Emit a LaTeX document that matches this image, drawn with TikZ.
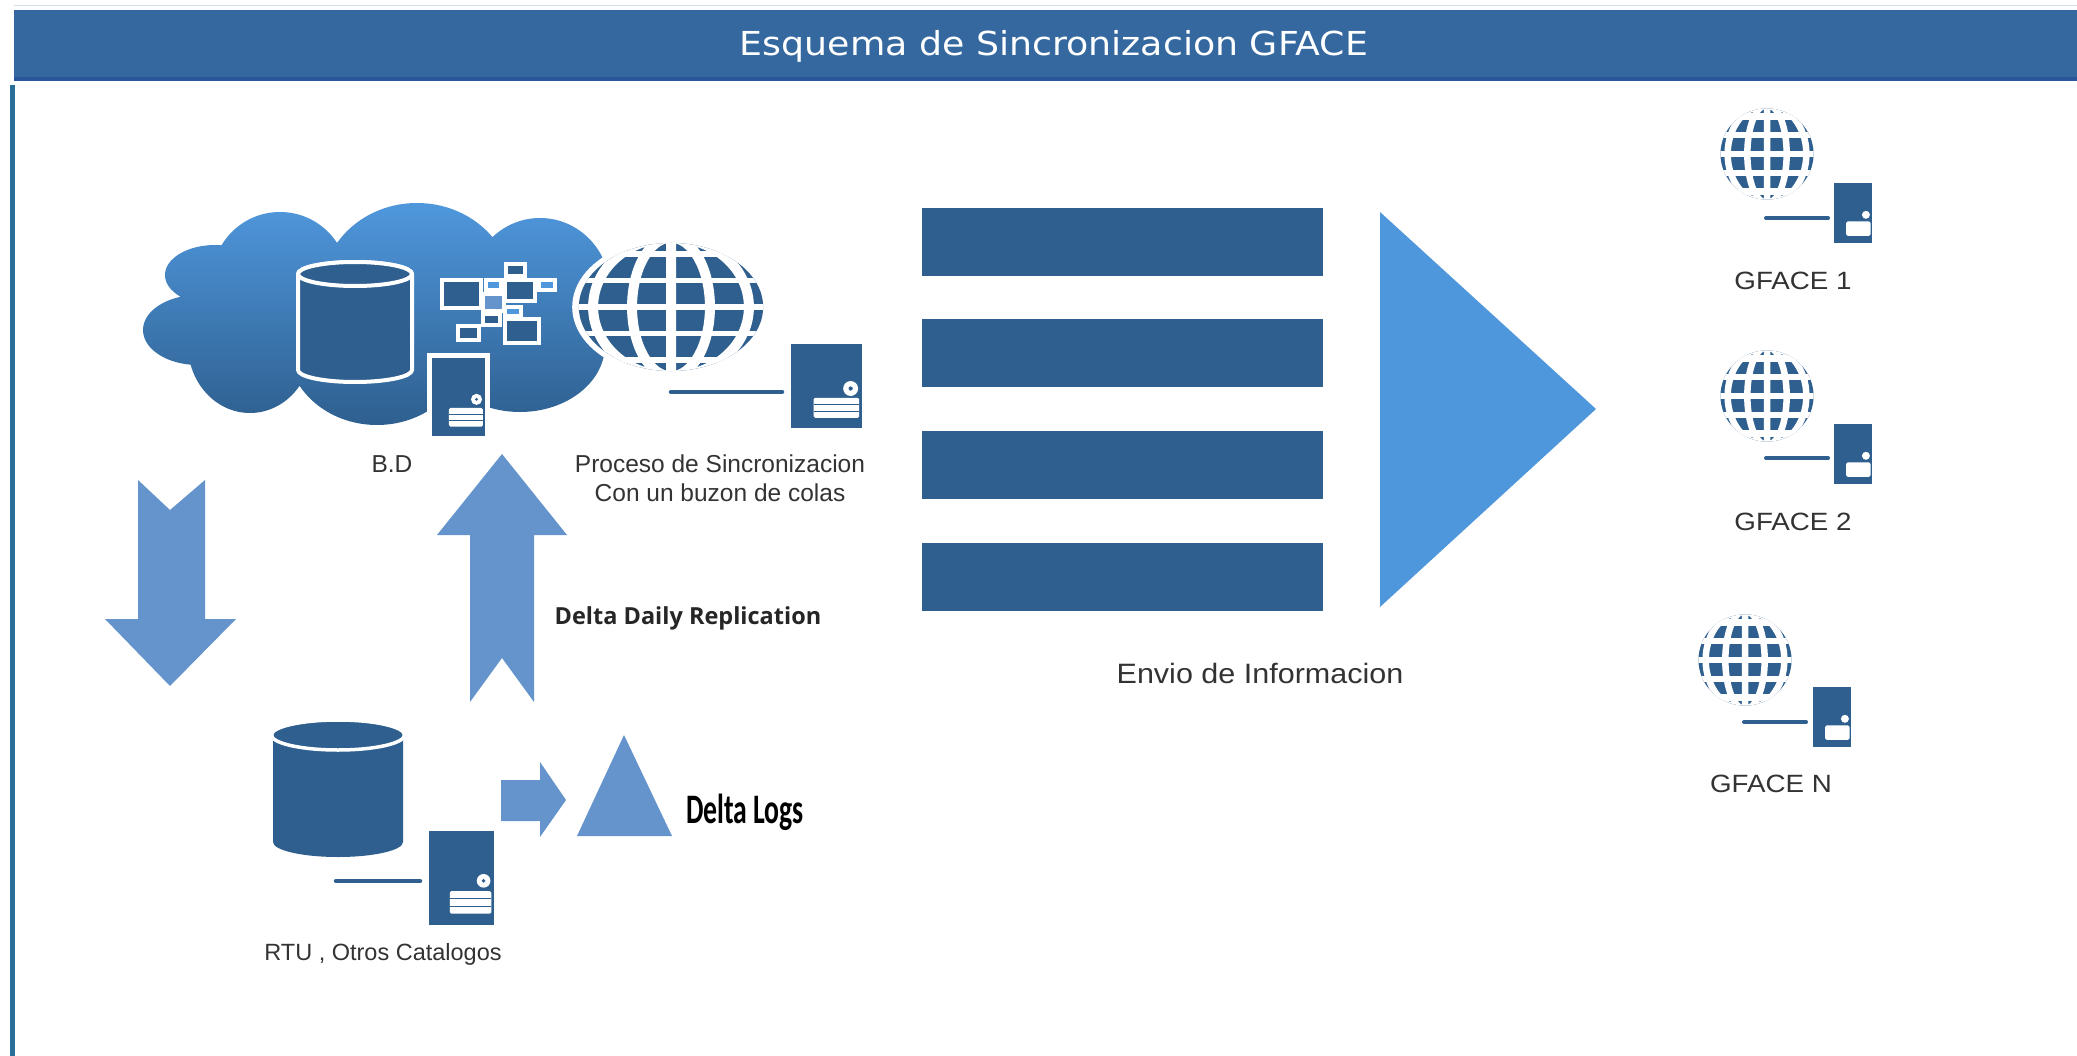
\documentclass[tikz,border=0pt]{standalone}
\usepackage{fontspec}
\setmainfont{Liberation Sans}
\newfontfamily\titlefont{DejaVu Sans}
\newfontfamily\carlitofont{Carlito}
\newfontfamily\opensans{Open Sans}
\definecolor{gfdark}{HTML}{2E5F8F}
\definecolor{gfhead}{HTML}{34689F}
\definecolor{gfarrow}{HTML}{6594CC}
\definecolor{gftri}{HTML}{4F97DC}
\definecolor{gftext}{HTML}{333333}
\tikzset{
  lbl/.style={text=gftext,inner sep=0pt,font=\fontsize{24.5}{29}\selectfont,align=center},
  blockarrow/.style={fill=gfarrow,draw=none},
  bar/.style={fill=gfdark,draw=none},
  wire/.style={draw=gfdark,line width=4.5pt,line cap=round}
}
% cx cy rx ry meridian-width parallel-width
\newcommand\gfglobe[6]{%
  \begin{scope}[shift={(#1,#2)},x=#3pt,y=#4pt]
    \fill[white] (0,0) circle (1.04);
    \begin{scope}
      \clip (0,0) circle (.97);
      \fill[gfdark] (0,0) circle (1);
      \draw[white,line width=#5pt] (0,-1) -- (0,1)
        (0,0) ellipse (.41 and 1.05) (0,0) ellipse (.82 and 1.05);
      \draw[white,line width=#6pt] (-1,0) -- (1,0)
        (-1,.4) -- (1,.4) (-1,-.4) -- (1,-.4)
        (-1,.8) -- (1,.8) (-1,-.8) -- (1,-.8);
    \end{scope}
  \end{scope}}
% x y w h row-line-opacity
\newcommand\gfserver[5]{%
  \pgfmathsetmacro\gfr{.105*#3}%
  \pgfmathsetmacro\gfd{.03*#3}%
  \begin{scope}[shift={(#1,#2)},x=#3pt,y=-#4pt]
    \fill[gfdark] (0,0) rectangle (1,1);
    \fill[white] (.84,.53) circle (\gfr pt);
    \fill[gfdark,opacity=#5] (.84,.53) circle (\gfd pt);
    \fill[white,rounded corners=1.5pt] (.32,.64) rectangle (.96,.88);
    \draw[gfdark,line width=.8pt,opacity=#5] (.32,.72) -- (.96,.72) (.32,.80) -- (.96,.80);
  \end{scope}}
\begin{document}
\begin{tikzpicture}[x=1pt,y=-1pt]
\useasboundingbox (0,0) rectangle (2077,1056);
\fill[white] (0,0) rectangle (2077,1056);
% header
\draw[gfdark!20,line width=1pt] (14,5.5) -- (2077,5.5);
\fill[gfhead] (14,10) rectangle (2077,81);
\fill[gfdark!90!blue] (14,77) rectangle (2077,81);
\fill[gfdark!90!cyan] (10,85) rectangle (15,1056);
\node[text=white,inner sep=0pt,font=\titlefont\fontsize{33}{38}\selectfont] (title) at (1054,46) {\scalebox{1.1}[1]{Esquema de Sincronizacion GFACE}};
% cloud
\shade[top color=gftri,bottom color=gfdark]
  (280,280) ellipse (68 and 68)
  (215,275) ellipse (50 and 30)
  (198,330) ellipse (55 and 35)
  (417,290) ellipse (95 and 87)
  (540,290) ellipse (70 and 72)
  (250,345) ellipse (62 and 68)
  (377,345) ellipse (90 and 80)
  (520,345) ellipse (85 and 67)
  (390,310) ellipse (200 and 70);
% database in cloud
\draw[white,line width=4pt,fill=gfdark,line join=round]
  (298,274) -- (298,370) arc[start angle=180,end angle=360,x radius=57,y radius=-12] -- (412,274) arc[start angle=0,end angle=180,x radius=57,y radius=-12] -- cycle;
\draw[white,line width=4pt,fill=gfdark] (355,274) ellipse (57 and 12);
% network squares
\foreach \a/\b/\c/\d/\col in {442/280/481/308/gfdark,506/264/525/276/gfdark,505/280/535/301/gfdark,539/280/555/290/gftri,486/280/501/290/gftri,483/294/504/311/gfarrow,505/307/521/316/gftri,483/314/500/325/gfdark,505/319/539/343/gfdark,458/326/479/340/gfdark}{
  \draw[white,line width=4pt,fill=\col] (\a,\b) rectangle (\c,\d);
}
% cloud server
\fill[white] (427,353) rectangle (490,437);
\gfserver{432}{358}{53}{78}{1}
% big globe and its server
\gfglobe{671}{307}{95}{66}{10}{5.5}
\draw[wire] (671,392) -- (782,392);
\gfserver{791}{344}{71}{84}{1}
% labels
\node[lbl] (bd) at (392,464) {B.D};
\node[lbl] (proceso) at (720,478) {Proceso de Sincronizacion\\Con un buzon de colas};
% block arrows
\fill[blockarrow] (138,480) -- (170,510) -- (205,480) -- (205,619) -- (236,619) -- (170,686) -- (105,619) -- (138,619) -- cycle;
\fill[blockarrow] (502,454) -- (567,535) -- (534,535) -- (534,702) -- (502,658) -- (470,702) -- (470,535) -- (437,535) -- cycle;
\node[inner sep=0pt,text=black!85,font=\opensans\bfseries\fontsize{23.5}{27}\selectfont] (delta) at (688,618) {Delta Daily Replication};
% bars
\fill[bar] (922,208) rectangle (1323,276);
\fill[bar] (922,319) rectangle (1323,387);
\fill[bar] (922,431) rectangle (1323,499);
\fill[bar] (922,543) rectangle (1323,611);
\fill[gftri] (1380,212) -- (1596,409) -- (1380,607) -- cycle;
\node[lbl,font=\fontsize{28}{32}\selectfont] (envio) at (1260,673) {\scalebox{1.09}[1]{Envio de Informacion}};
% GFACE
\gfglobe{1767}{154}{48}{47}{6.5}{6.5}
\draw[wire,line width=4pt] (1766,218) -- (1828,218);
\gfserver{1834}{183}{38}{60}{0}
\node[lbl,font=\fontsize{25}{29}\selectfont] (g1) at (1793,281) {\scalebox{1.11}[1]{GFACE 1}};
\gfglobe{1767}{396}{48}{47}{6.5}{6.5}
\draw[wire,line width=4pt] (1766,458) -- (1828,458);
\gfserver{1834}{424}{38}{60}{0}
\node[lbl,font=\fontsize{25}{29}\selectfont] (g2) at (1793,522) {\scalebox{1.11}[1]{GFACE 2}};
\gfglobe{1745}{660}{48}{47}{6.5}{6.5}
\draw[wire,line width=4pt] (1744,722) -- (1806,722);
\gfserver{1813}{687}{38}{60}{0}
\node[lbl,font=\fontsize{25}{29}\selectfont] (gn) at (1771,784) {\scalebox{1.11}[1]{GFACE N}};
% lower database
\fill[gfdark] (273,735) -- (273,842) arc[start angle=180,end angle=360,x radius=65,y radius=-15] -- (403,735) arc[start angle=0,end angle=180,x radius=65,y radius=-15] -- cycle;
\draw[white,line width=3.5pt,fill=gfdark] (338,735) ellipse (66.5 and 15);
\draw[wire] (336,881) -- (420,881);
\gfserver{429}{831}{65}{94}{1}
\node[lbl,font=\fontsize{23.5}{28}\selectfont] (rtu) at (383,954) {RTU , Otros Catalogos};
% small arrow and triangle
\fill[blockarrow] (501,780) -- (540,780) -- (540,762) -- (566,800) -- (540,837) -- (540,821) -- (501,821) -- cycle;
\fill[blockarrow] (624,735) -- (672,836) -- (577,836) -- cycle;
\node[inner sep=0pt,text=black,font=\carlitofont\bfseries\fontsize{42}{46}\selectfont] (dlogs) at (745,812) {\scalebox{.66}[1]{Delta Logs}};
\end{tikzpicture}
\end{document}
